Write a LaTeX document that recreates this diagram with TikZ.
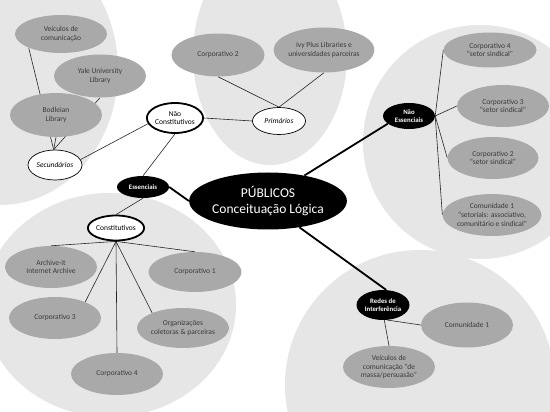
\documentclass[tikz,border=0pt]{standalone}
\usepackage{fontspec}
\setmainfont{Carlito}
\usetikzlibrary{shapes.geometric}
\pgfdeclarelayer{bg}
\pgfdeclarelayer{lines}
\pgfsetlayers{bg,lines,main}
\definecolor{bgcirc}{HTML}{E6E6E6}
\definecolor{nodegray}{HTML}{A9A9A9}
\definecolor{txtgray}{HTML}{3A3A3A}
\tikzset{
  graynode/.style={ellipse, fill=nodegray, inner sep=0pt, align=center, text=txtgray,
    font=\fontsize{7.5}{8.8}\selectfont, minimum width=92pt, minimum height=42pt},
  blacknode/.style={ellipse, fill=black, inner sep=0pt, align=center, text=white,
    font=\bfseries\fontsize{6.8}{8}\selectfont, minimum width=52pt, minimum height=26pt},
  thicknode/.style={ellipse, draw=black, line width=1.8pt, fill=white, inner sep=0pt, align=center,
    font=\fontsize{7.5}{8.8}\selectfont, minimum width=53pt, minimum height=30pt},
  thinnode/.style={ellipse, draw=black, line width=0.7pt, fill=white, inner sep=0pt, align=center,
    font=\itshape\fontsize{7.5}{8.8}\selectfont, minimum width=53pt, minimum height=28pt},
  thinline/.style={draw=black!85, line width=0.6pt},
  thickline/.style={draw=black, line width=1.8pt},
}
\begin{document}
\begin{tikzpicture}[x=1pt,y=-1pt]
\useasboundingbox (0,0) rectangle (550,412);
\begin{pgfonlayer}{bg}
  \fill[white] (0,0) rectangle (550,412);
  \clip (0,0) rectangle (550,412);
  \fill[bgcirc] (0,70) ellipse [x radius=118, y radius=135];
  \fill[bgcirc] (270,55) ellipse [x radius=77, y radius=110];
  \fill[bgcirc] (480,142) ellipse [x radius=117, y radius=117];
  \fill[bgcirc] (110,305) ellipse [x radius=126, y radius=112];
  \fill[bgcirc] (420,385) ellipse [x radius=135, y radius=135];
\end{pgfonlayer}

% center
\node[ellipse, fill=black, text=white, inner sep=0pt, minimum width=125pt, minimum height=57pt,
  align=center, font=\fontsize{13.5}{15.5}\selectfont] (pub) at (268,201) {PÚBLICOS\\Conceituação Lógica};

% top-left
\node[graynode, minimum width=92pt, minimum height=38pt] (ve) at (61,34) {Veículos de\\comunicação};
\node[graynode, minimum height=43pt] (yale) at (100,76) {Yale University\\Library};
\node[graynode, minimum height=44pt] (bod) at (56,115) {Bodleian\\Library};
\node[thinnode, minimum width=54pt, minimum height=30pt] (sec) at (55,165) {Secundários};
\node[thicknode] (nc) at (175,118) {Não\\Constitutivos};

% top center
\node[graynode, minimum width=93pt, minimum height=43pt] (c2t) at (218,55) {Corporativo 2};
\node[graynode, minimum height=45pt] (ivy) at (324,50) {Ivy Plus Libraries e\\universidades parceiras};
\node[thinnode, minimum height=27pt] (prim) at (279,121) {Primários};

% essenciais
\node[blacknode, minimum height=22pt] (ess) at (143,187) {Essenciais};

% right
\node[blacknode] (ne) at (409,116) {Não\\Essenciais};
\node[graynode, minimum width=93pt, minimum height=35pt] (c4r) at (490,50) {Corporativo 4\\“setor sindical”};
\node[graynode] (c3r) at (503,106) {Corporativo 3\\“setor sindical”};
\node[graynode, minimum width=91pt] (c2r) at (493,158) {Corporativo 2\\“setor sindical”};
\node[graynode, minimum width=98pt] (cm1r) at (492,215) {Comunidade 1\\“setoriais: associativo,\\comunitário e sindical”};

% bottom right
\node[blacknode, minimum width=53pt, minimum height=30pt] (red) at (383,305) {Redes de\\Interferência};
\node[graynode, minimum height=45pt] (cm1b) at (467,325) {Comunidade 1};
\node[graynode] (veb) at (389,367) {Veículos de\\comunicação “de\\massa/persuasão”};

% bottom left
\node[thicknode, minimum width=48pt, minimum height=25pt] (con) at (116,228) {Constitutivos};
\node[graynode] (arch) at (51,267) {Archive-it\\Internet Archive};
\node[graynode, minimum width=93pt, minimum height=40pt] (c1b) at (195,272) {Corporativo 1};
\node[graynode] (c3b) at (55,318) {Corporativo 3};
\node[graynode, minimum height=40pt] (org) at (183,328) {Organizações\\coletoras \& parceiras};
\node[graynode] (c4b) at (117,374) {Corporativo 4};

\begin{pgfonlayer}{lines}
  \draw[thinline] (ve.203) -- (sec.95);
  \draw[thinline] (yale.south) -- (sec.95);
  \draw[thinline] (bod.south) -- (sec.95);
  \draw[thinline] (sec.12) -- (nc.192);
  \draw[thinline] (nc.east) -- (prim.west);
  \draw[thinline] (c2t.south) -- (prim.north);
  \draw[thinline] (ivy.south) -- (prim.north);
  \draw[thinline] (nc.south) -- (ess.north);
  \draw[thickline] (ess.east) -- (pub.west);
  \draw[thinline] (ess.south) -- (con.north);
  \draw[thickline] (pub.35) -- (ne.200);
  \draw[thinline] (ne.east) -- (c4r.west);
  \draw[thinline] (ne.east) -- (c3r.west);
  \draw[thinline] (ne.east) -- (c2r.west);
  \draw[thinline] (ne.east) -- (cm1r.west);
  \draw[thickline] (pub.-40) -- (red.78);
  \draw[thinline] (red.-75) -- (cm1b.west);
  \draw[thinline] (red.-85) -- (veb.north);
  \draw[thinline] (con.south) -- (arch.north);
  \draw[thinline] (con.south) -- (c1b.north);
  \draw[thinline] (con.south) -- (c3b.28);
  \draw[thinline] (con.south) -- (org.154);
  \draw[thinline] (con.south) -- (c4b.north);
\end{pgfonlayer}
\end{tikzpicture}
\end{document}
